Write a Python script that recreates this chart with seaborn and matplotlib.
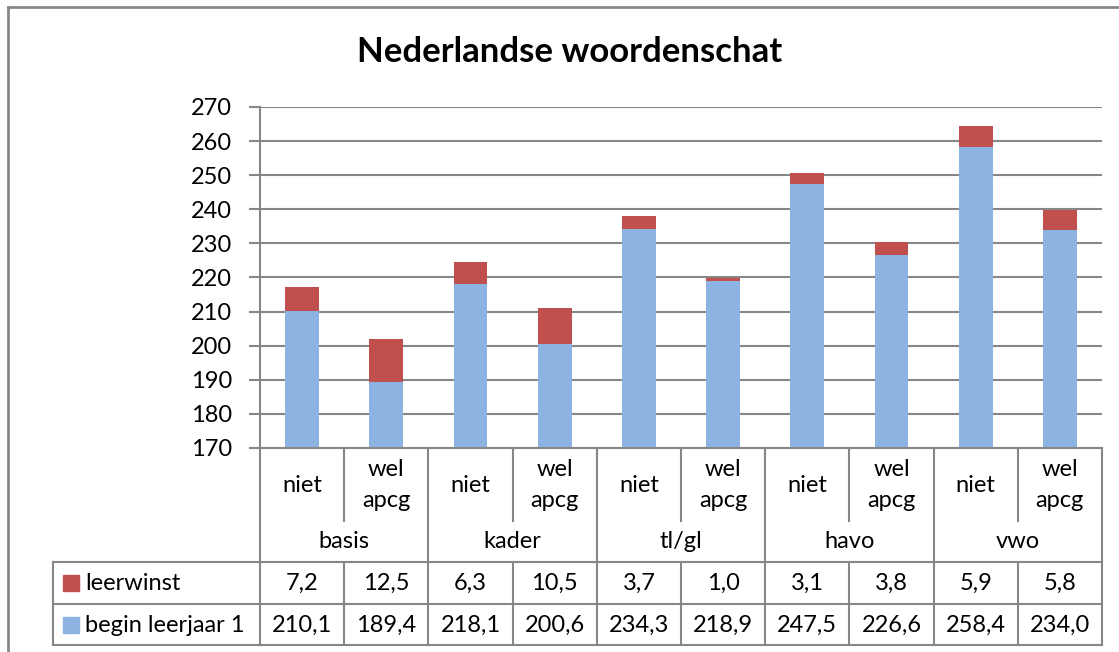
import pandas as pd
import seaborn as sns
import matplotlib.pyplot as plt
from matplotlib.lines import Line2D
from matplotlib.patches import Rectangle
from matplotlib.transforms import blended_transform_factory

# data
groepen = ["basis", "kader", "tl/gl", "havo", "vwo"]
apcg = ["niet", "wel\napcg"]
begin_leerjaar = [210.1, 189.4, 218.1, 200.6, 234.3, 218.9, 247.5, 226.6, 258.4, 234.0]
leerwinst = [7.2, 12.5, 6.3, 10.5, 3.7, 1.0, 3.1, 3.8, 5.9, 5.8]

kolommen = [g + "|" + a for g in groepen for a in apcg]
df = pd.DataFrame({"kolom": kolommen,
                   "begin": begin_leerjaar,
                   "winst": leerwinst})
df["totaal"] = df["begin"] + df["winst"]

blauw = "#8DB3E2"
rood = "#C0504D"
grijs = "#878787"

plt.rcParams["font.family"] = ["Lato", "DejaVu Sans"]
W, H = 1119, 652
fig = plt.figure(figsize=(W / 100, H / 100), dpi=100)

def fx(px):
    return px / W

def fy(py):
    return 1 - py / H

ax = fig.add_axes([fx(260), fy(448), fx(1102) - fx(260), fy(107) - fy(448)])

# stacked look: total in red, base in blue on top of it
sns.barplot(data=df, x="kolom", y="totaal", order=kolommen, color=rood,
            saturation=1, width=0.4, ax=ax, zorder=3)
sns.barplot(data=df, x="kolom", y="begin", order=kolommen, color=blauw,
            saturation=1, width=0.4, ax=ax, zorder=3)

fs = 17

ax.set_ylim(170, 270)
ax.set_xlim(-0.5, len(kolommen) - 0.5)
ax.set_yticks(range(170, 271, 10))
ax.yaxis.grid(True, color=grijs, linewidth=1.5, zorder=0)
ax.set_axisbelow(True)
ax.set_xticks([])
ax.set_xlabel("")
ax.set_ylabel("")
for s in ["top", "right", "bottom"]:
    ax.spines[s].set_visible(False)
ax.spines["left"].set_color(grijs)
ax.spines["left"].set_linewidth(1.5)
ax.tick_params(axis="y", length=8, width=1.5, color=grijs, labelsize=fs, pad=12)

fig.text(fx(570), fy(52), "Nederlandse woordenschat", ha="center", va="center",
         fontsize=25, fontweight="bold")

# table under the chart
tr = blended_transform_factory(ax.transData, fig.transFigure)
lw = 1.5

def hline(x0, x1, py, trans=fig.transFigure):
    fig.add_artist(Line2D([x0, x1], [fy(py), fy(py)], transform=trans,
                          color=grijs, linewidth=lw))

def vline(x, py0, py1, trans=tr):
    fig.add_artist(Line2D([x, x], [fy(py0), fy(py1)], transform=trans,
                          color=grijs, linewidth=lw))

n = len(kolommen)
hline(-0.5, n - 0.5, 448, tr)
for py in [562, 604, 645]:
    hline(fx(53), fx(260), py)
    hline(-0.5, n - 0.5, py, tr)
vline(fx(53), 562, 645, fig.transFigure)
for i in range(n + 1):
    x = i - 0.5
    if i % 2 == 0:
        vline(x, 448, 645)
    else:
        vline(x, 448, 521)
        vline(x, 562, 645)

def fmt(v):
    return f"{v:.1f}".replace(".", ",")

for i, k in enumerate(kolommen):
    a = k.split("|")[1]
    fig.text(i, fy(485), a, transform=tr, ha="center", va="center",
             fontsize=fs, linespacing=1.55)
    fig.text(i, fy(583), fmt(leerwinst[i]), transform=tr, ha="center",
             va="center", fontsize=fs)
    fig.text(i, fy(625), fmt(begin_leerjaar[i]), transform=tr, ha="center",
             va="center", fontsize=fs)
for j, g in enumerate(groepen):
    fig.text(2 * j + 0.5, fy(542), g, transform=tr, ha="center", va="center",
             fontsize=fs)

for py, kleur, naam in [(583, rood, "leerwinst"), (625, blauw, "begin leerjaar 1")]:
    fig.add_artist(Rectangle((fx(63), fy(py + 8)), fx(16), 16 / H,
                             transform=fig.transFigure, color=kleur))
    fig.text(fx(85), fy(py), naam, ha="left", va="center", fontsize=fs)

# outer frame of the chart
fig.add_artist(Line2D([fx(8), fx(8)], [fy(7), 0], transform=fig.transFigure,
                      color=grijs, linewidth=2))
fig.add_artist(Line2D([fx(8), 1], [fy(7), fy(7)], transform=fig.transFigure,
                      color=grijs, linewidth=2))

fig.savefig("out.png", dpi=100)
